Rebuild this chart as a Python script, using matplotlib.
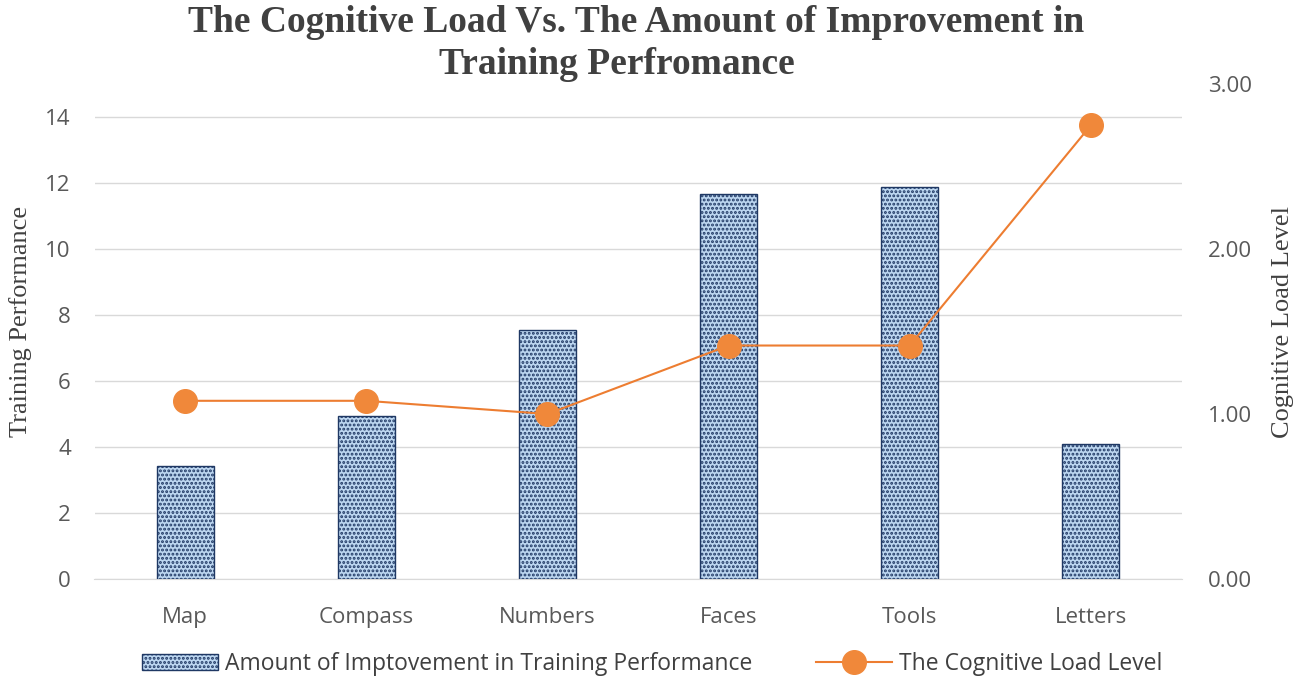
import matplotlib
matplotlib.use("Agg")
import matplotlib.pyplot as plt
import numpy as np

categories = ["Map", "Compass", "Numbers", "Faces", "Tools", "Letters"]
improvement = [3.42, 4.94, 7.55, 11.67, 11.88, 4.09]
cognitive_load = [1.08, 1.08, 1.00, 1.415, 1.415, 2.75]
left_ticks = [0, 2, 4, 6, 8, 10, 12, 14]
right_ticks = [0.0, 1.0, 2.0, 3.0]

W, H = 1301, 683
fig = plt.figure(figsize=(W / 100, H / 100), dpi=100)
AW = 1181.5 - 94.5
AH = 579 - 84
ax = fig.add_axes([94.5 / W, 1 - 579 / H, AW / W, AH / H])
ax2 = ax.twinx()

x = np.arange(len(categories))
plt.rcParams['hatch.color'] = '#1a3668'
plt.rcParams['hatch.linewidth'] = 1.4
bars = ax.bar(x, improvement, width=0.315, color='#bcd6f0', edgecolor='#1f3864',
              linewidth=1.0, hatch='....', zorder=3,
              label='Amount of Imptovement in Training Performance')

ax.set_xlim(-0.5, len(categories) - 0.5)
ax.set_ylim(0, 15)
ax.set_yticks(left_ticks)
ax.grid(axis='y', color='#d9d9d9', linewidth=1.0, zorder=0)
ax.set_axisbelow(True)
for s in ax.spines.values():
    s.set_visible(False)
for s in ax2.spines.values():
    s.set_visible(False)
ax.spines['bottom'].set_visible(True)
ax.spines['bottom'].set_color('#d9d9d9')

tick_font = dict(family='Open Sans', size=16, color='#595959')
ax.set_xticks(x)
ax.set_xticklabels(categories, **tick_font)
ax.set_yticklabels([str(t) for t in left_ticks], **tick_font)
ax.tick_params(axis='x', length=0, pad=20)
ax.tick_params(axis='y', length=0, pad=17)

line, = ax2.plot(x, cognitive_load, color='#ed7d31', linewidth=1.5, marker='o',
                 markersize=17, markerfacecolor='#f0883a', markeredgecolor='#f0883a',
                 zorder=5, label='The Cognitive Load Level')
ax2.set_ylim(0, 3)
ax2.set_yticks(right_ticks)
ax2.set_yticklabels([f"{t:.2f}" for t in right_ticks], **tick_font)
ax2.tick_params(axis='y', length=0, pad=19)

label_font = dict(family='Liberation Serif', size=19, color='#404040')
ax.set_ylabel('Training Performance', **label_font)
ax2.set_ylabel('Cognitive Load Level', **label_font)
ax.yaxis.set_label_coords(-62 / AW, (579 - 321) / AH)
ax2.yaxis.set_label_coords(1 + 90 / AW, (579 - 322) / AH)

title_font = dict(ha='center', va='center', family='Liberation Serif', weight='bold',
                  size=27, color='#404040')
fig.text(636 / W, 1 - 23 / H, 'The Cognitive Load Vs. The Amount of Improvement in', **title_font)
fig.text(617 / W, 1 - 65 / H, 'Training Perfromance', **title_font)

leg = fig.legend(handles=[bars, line], loc='center', bbox_to_anchor=(652 / W, 1 - 664 / H),
                 ncol=2, frameon=False, prop=dict(family='Open Sans', size=16.5),
                 columnspacing=2.8, handlelength=3.3, handletextpad=0.3)
for t in leg.get_texts():
    t.set_color('#404040')

fig.savefig('out.png', dpi=100)
